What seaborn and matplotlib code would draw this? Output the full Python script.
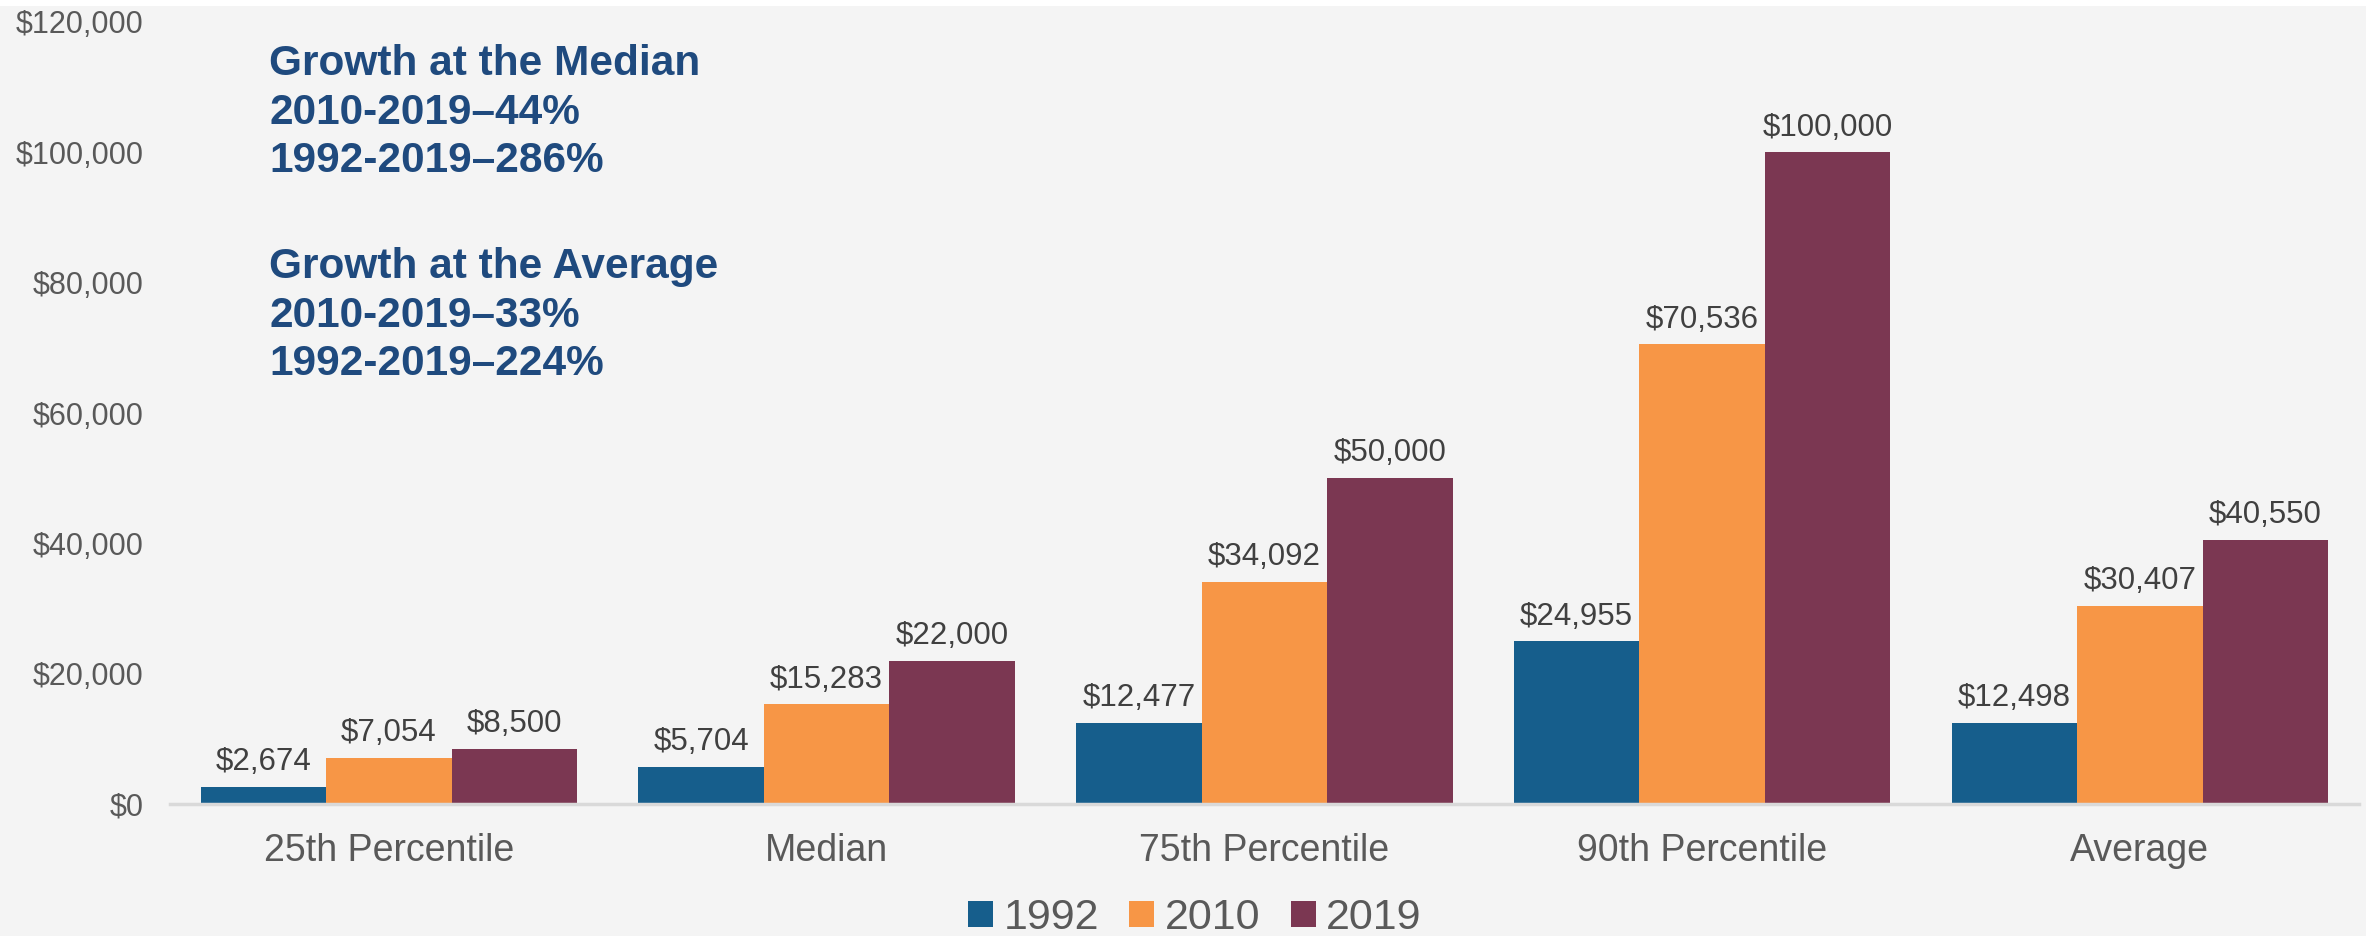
import matplotlib
matplotlib.use("Agg")
import matplotlib.pyplot as plt
from matplotlib.patches import Patch, Rectangle
import seaborn as sns
import pandas as pd

# data
categories = ["25th Percentile", "Median", "75th Percentile", "90th Percentile", "Average"]
years = ["1992", "2010", "2019"]
values_1992 = [2674, 5704, 12477, 24955, 12498]
values_2010 = [7054, 15283, 34092, 70536, 30407]
values_2019 = [8500, 22000, 50000, 100000, 40550]
y_ticks = [0, 20000, 40000, 60000, 80000, 100000, 120000]
colors = ["#165E8C", "#F79646", "#7B3752"]

median_note = "Growth at the Median\n2010-2019\u201344%\n1992-2019\u2013286%"
average_note = "Growth at the Average\n2010-2019\u201333%\n1992-2019\u2013224%"

df = pd.DataFrame({
    "Category": categories * 3,
    "Year": [y for y in years for _ in categories],
    "Value": values_1992 + values_2010 + values_2019,
})

sns.set_style("white")
plt.rcParams["font.family"] = ["Liberation Sans", "DejaVu Sans"]

bg = "#F4F4F4"
fig = plt.figure(figsize=(23.66, 9.36), dpi=100, facecolor=bg)
ax = fig.add_axes([0.0719, 0.141, 0.925, 0.8355])
ax.set_facecolor(bg)
# thin white strip along the top edge of the original image
fig.patches.append(Rectangle((0, 0.994), 1, 0.006, transform=fig.transFigure,
                             facecolor="white", edgecolor="none"))

sns.barplot(data=df, x="Category", y="Value", hue="Year", order=categories,
            hue_order=years, palette=colors, saturation=1, width=0.86,
            linewidth=0, legend=False, ax=ax)

for cont in ax.containers:
    ax.bar_label(cont, labels=[f"${v:,.0f}" for v in cont.datavalues],
                 padding=7, fontsize=22.5, color="#404040")

ax.set_xlim(-0.5, 4.5)
ax.set_ylim(0, 120000)
ax.set_yticks(y_ticks)
ax.set_yticklabels([f"${v:,.0f}" for v in y_ticks])
ax.set_xlabel("")
ax.set_ylabel("")
ax.tick_params(axis="y", length=0, pad=19, labelsize=22, labelcolor="#595959")
ax.tick_params(axis="x", length=0, pad=21, labelsize=27, labelcolor="#595959")

for s in ["top", "right", "left"]:
    ax.spines[s].set_visible(False)
ax.spines["bottom"].set_color("#D9D9D9")
ax.spines["bottom"].set_linewidth(2.5)

note_kw = dict(fontsize=30.5, fontweight="bold", color="#1F4A7E",
               ha="left", va="top", linespacing=1.28)
fig.text(0.1137, 0.953, median_note, **note_kw)
fig.text(0.1137, 0.736, average_note, **note_kw)

handles = [Patch(facecolor=c, edgecolor="none") for c in colors]
fig.legend(handles, years, loc="center", bbox_to_anchor=(0.505, 0.019),
           ncol=3, frameon=False, fontsize=31, labelcolor="#595959",
           handlelength=0.58, handleheight=0.58, handletextpad=0.25,
           columnspacing=0.7, borderpad=0)

fig.savefig("out.png", dpi=100, facecolor=bg)
